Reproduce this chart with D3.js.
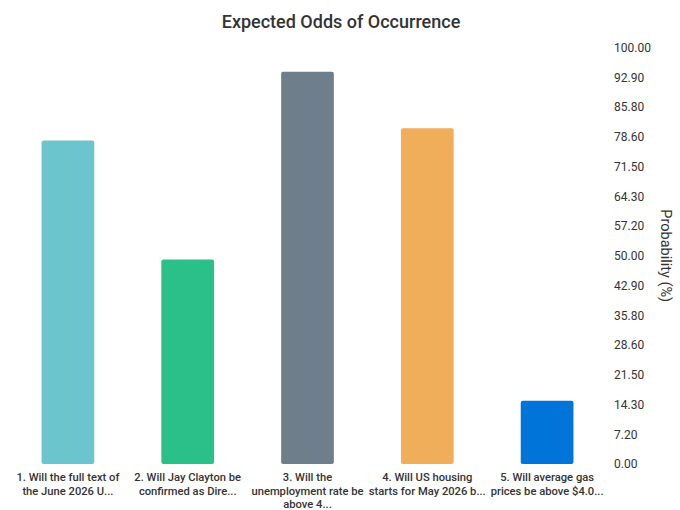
<!DOCTYPE html>
<html>
<head>
<meta charset="utf-8">
<script src="https://cdn.jsdelivr.net/npm/d3@7"></script>
<style>
  body { margin: 0; background: #fff; }
  svg { font-family: Roboto, "Noto Sans", sans-serif; }
</style>
</head>
<body>
<div id="chart"></div>
<script>
// data
const categories = [
    "1. Will the full text of the June 2026 U...",
    "2. Will Jay Clayton be confirmed as Dire...",
    "3. Will the unemployment rate be above 4...",
    "4. Will US housing starts for May 2026 b...",
    "5. Will average gas prices be above $4.0..."
];
const probabilities = [77.7, 49.1, 94.2, 80.6, 15.2];
const barColors = ["#6cc5cc", "#2bbf8a", "#6e7f8b", "#f0ad5a", "#0074d9"];
const tickLabels = ["0.00", "7.20", "14.30", "21.50", "28.60", "35.80", "42.90", "50.00",
    "57.20", "64.30", "71.50", "78.60", "85.80", "92.90", "100.00"];

const width = 680, height = 510;
const margin = { top: 47.5, right: 73, bottom: 46, left: 8 };

const svg = d3.select("#chart")
    .append("svg")
    .attr("width", width)
    .attr("height", height);

const x = d3.scaleBand()
    .domain(categories)
    .range([margin.left, width - margin.right])
    .paddingInner(0.56)
    .paddingOuter(0.28);

const y = d3.scaleLinear()
    .domain([0, 100])
    .range([height - margin.bottom, margin.top]);

// Title
svg.append("text")
    .attr("x", 341)
    .attr("y", 28)
    .attr("text-anchor", "middle")
    .attr("fill", "#333")
    .attr("font-size", "18px")
    .attr("font-weight", 500)
    .text("Expected Odds of Occurrence");

// Bars
svg.selectAll("rect.bar")
    .data(probabilities)
    .enter()
    .append("rect")
    .attr("class", "bar")
    .attr("x", (d, i) => x(categories[i]))
    .attr("y", d => y(d))
    .attr("width", x.bandwidth())
    .attr("height", d => y(0) - y(d))
    .attr("rx", 2)
    .attr("fill", (d, i) => barColors[i]);

// Y axis on the right
const tickValues = tickLabels.map((t, i) => i * 100 / (tickLabels.length - 1));
const yAxis = svg.append("g")
    .attr("transform", `translate(${width - margin.right + 5}, 0)`)
    .call(d3.axisRight(y).tickValues(tickValues)
        .tickFormat((d, i) => tickLabels[i]).tickSize(0).tickPadding(2));
yAxis.select(".domain").remove();
yAxis.selectAll("text")
    .attr("fill", "#333")
    .attr("font-size", "12px")
    .attr("font-family", "Roboto, sans-serif");

// Y axis title
svg.append("text")
    .attr("transform", `translate(661, ${(y(0) + y(100)) / 2}) rotate(90)`)
    .attr("text-anchor", "middle")
    .attr("fill", "#333")
    .attr("font-size", "14.5px")
    .text("Probability (%)");

// X labels, wrapped
function wrap(textSel, maxWidth) {
    textSel.each(function () {
        const text = d3.select(this);
        const words = text.text().split(/\s+/);
        const cx = text.attr("x");
        text.text(null);
        let line = [];
        let tspan = text.append("tspan").attr("x", cx).attr("dy", 0);
        words.forEach(w => {
            line.push(w);
            tspan.text(line.join(" "));
            if (tspan.node().getComputedTextLength() > maxWidth && line.length > 1) {
                line.pop();
                tspan.text(line.join(" "));
                line = [w];
                tspan = text.append("tspan").attr("x", cx).attr("dy", "13.5px").text(w);
            }
        });
    });
}

svg.selectAll("text.xlabel")
    .data(categories)
    .enter()
    .append("text")
    .attr("class", "xlabel")
    .attr("x", d => x(d) + x.bandwidth() / 2)
    .attr("y", 481)
    .attr("text-anchor", "middle")
    .attr("fill", "#333")
    .attr("font-size", "11.2px")
    .attr("font-weight", 500)
    .text(d => d)
    .call(wrap, 118.5);
</script>
</body>
</html>
